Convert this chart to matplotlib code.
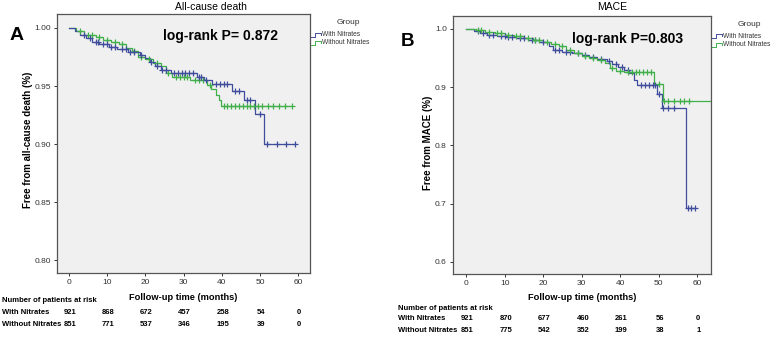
import numpy as np
import matplotlib
matplotlib.use("Agg")
import matplotlib.pyplot as plt
from matplotlib.lines import Line2D
from matplotlib.transforms import blended_transform_factory

# ---- data ----
groups = ["With Nitrates", "Without Nitrates"]
risk_times = [0, 10, 20, 30, 40, 50, 60]

# panel A: all-cause death
a_with_t = [0, 1.5, 3, 4.5, 6, 8, 10.5, 12.5, 15.5, 18.5, 20, 21.2, 22.5, 24, 26.8,
            33.5, 35.3, 37.5, 42.7, 45.7, 48.8, 51.0]
a_with_s = [1.0, 0.997, 0.994, 0.991, 0.988, 0.986, 0.984, 0.982, 0.979, 0.977, 0.974,
            0.971, 0.967, 0.964, 0.961, 0.958, 0.955, 0.952, 0.946, 0.938, 0.926, 0.900]
a_with_end = 59.3
a_with_cens = [4, 5.5, 7, 7.5, 9, 10, 11, 12, 14, 15, 16, 17, 19, 21.5, 23, 24.5, 25.5,
               27.5, 28.5, 29.5, 30.5, 31.5, 32.5, 34, 34.5, 36, 38.5, 39.5, 40.5, 41.5,
               43.5, 44.5, 46.5, 47.5, 50, 51.8, 54.5, 56.9, 59.3]
a_wo_t = [0, 2, 4, 7, 9, 11, 13, 15, 16.5, 18, 20, 22, 24, 25.5, 27, 31.8, 36.2, 37.3,
          38.5, 39.2, 39.8]
a_wo_s = [1.0, 0.997, 0.994, 0.992, 0.990, 0.988, 0.986, 0.983, 0.980, 0.975, 0.973,
          0.970, 0.967, 0.961, 0.958, 0.955, 0.951, 0.947, 0.942, 0.938, 0.933]
a_wo_end = 58.4
a_wo_cens = [3, 5, 6, 8, 10, 12, 14, 17, 19, 21, 23, 26, 28, 29, 30, 31, 33, 34, 35, 37,
             40.5, 41.5, 42.5, 43.5, 44.5, 45.5, 46.5, 47.5, 48.5, 49.5, 50.5, 52, 53.5,
             55, 56.5, 58.4]
a_risk_with = [921, 868, 672, 457, 258, 54, 0]
a_risk_wo = [851, 771, 537, 346, 195, 39, 0]

# panel B: MACE
b_with_t = [0, 2, 3.5, 5.5, 8, 10.5, 13, 16, 19, 21.5, 22.5, 25, 27.5, 30, 32, 34, 36.5,
            38, 39.5, 41, 42.3, 43.5, 44.5, 49.5, 50.8, 57.1]
b_with_s = [1.0, 0.996, 0.993, 0.990, 0.988, 0.986, 0.984, 0.981, 0.977, 0.971, 0.964,
            0.961, 0.958, 0.955, 0.952, 0.948, 0.944, 0.940, 0.935, 0.930, 0.924, 0.912,
            0.904, 0.888, 0.864, 0.692]
b_with_end = 59.5
b_with_cens = [3, 4.5, 6, 7, 9, 10, 11, 12, 14, 15, 17, 18, 20, 23, 24, 26, 27, 29, 31,
               33, 35, 37, 39, 40.5, 42, 45.5, 46.5, 47.5, 48.5, 49, 50, 51.2, 52.5, 54,
               57.5, 58.5, 59.5]
b_wo_t = [0, 2.5, 5, 7.5, 10, 12.5, 15, 17.5, 20, 22, 24, 26, 28, 30, 32, 34, 36, 37.4,
          39, 41, 48.7, 51.1]
b_wo_s = [1.0, 0.998, 0.995, 0.992, 0.990, 0.987, 0.984, 0.981, 0.978, 0.974, 0.970,
          0.964, 0.958, 0.954, 0.950, 0.946, 0.941, 0.932, 0.928, 0.926, 0.906, 0.876]
b_wo_end = 66
b_wo_cens = [3, 4, 6, 8, 9, 11, 13, 14, 16, 18, 19, 21, 23, 25, 27, 29, 31, 33, 35, 38,
             40, 42, 43, 44, 45, 46, 47, 48, 50, 51.5, 52.5, 54, 55.5, 56.5, 58]
b_risk_with = [921, 870, 677, 460, 261, 56, 0]
b_risk_wo = [851, 775, 542, 352, 199, 38, 1]

BLUE = "#3F4D9C"
GREEN = "#41B04A"
W, H = 780, 339


def fx(px):
    return px / W


def fy(py):
    return 1 - py / H


def km(ax, t, s, end, cens, color):
    tt = list(t) + [end]
    ss = list(s) + [s[-1]]
    ax.step(tt, ss, where="post", color=color, lw=0.9, zorder=3)
    idx = np.searchsorted(t, cens, side="right") - 1
    ax.plot(cens, np.array(s)[idx], "+", color=color, ms=4.5, mew=0.9, zorder=4,
            linestyle="none")


plt.rcParams["font.family"] = ["Liberation Sans", "DejaVu Sans"]
fig = plt.figure(figsize=(W / 100, H / 100), dpi=100)

panels = [
    dict(box=(57, 14, 310, 273), xlim=(-3.1, 63.1), ylim=(0.789, 1.012),
         yticks=[0.80, 0.85, 0.90, 0.95, 1.00], yfmt="{:.2f}",
         title="All-cause death", titlex=211,
         ylabel="Free from all-cause death (%)", ylaby=140,
         curves=[(a_wo_t, a_wo_s, a_wo_end, a_wo_cens, GREEN),
                 (a_with_t, a_with_s, a_with_end, a_with_cens, BLUE)],
         risk=(a_risk_with, a_risk_wo), pval="log-rank P= 0.872", psize=10,
         pxy=(220, 36), letter="A", lxy=(17, 35), lsize=14,
         legx=311, legy=(23, 35, 43), ylabx=28, xlaby=297,
         rlabx=2, rys=(300, 313, 325)),
    dict(box=(453, 16, 711, 274), xlim=(-3.4, 63.6), ylim=(0.579, 1.022),
         yticks=[0.6, 0.7, 0.8, 0.9, 1.0], yfmt="{:.1f}",
         title="MACE", titlex=612,
         ylabel="Free from MACE (%)", ylaby=143,
         curves=[(b_with_t, b_with_s, b_with_end, b_with_cens, BLUE),
                 (b_wo_t, b_wo_s, b_wo_end, b_wo_cens, GREEN)],
         risk=(b_risk_with, b_risk_wo), pval="log-rank P=0.803", psize=10,
         pxy=(628, 39), letter="B", lxy=(408, 42), lsize=13.5,
         legx=712, legy=(24, 36, 45), ylabx=428, xlaby=298,
         rlabx=398, rys=(308, 319, 330)),
]

for p in panels:
    x0, y0, x1, y1 = p["box"]
    ax = fig.add_axes([fx(x0), fy(y1), fx(x1) - fx(x0), fy(y0) - fy(y1)])
    ax.set_facecolor("#F0F0F0")
    for c in p["curves"]:
        km(ax, *c)
    ax.set_xlim(*p["xlim"])
    ax.set_ylim(*p["ylim"])
    ax.set_xticks(risk_times)
    ax.set_yticks(p["yticks"])
    ax.set_yticklabels([p["yfmt"].format(v) for v in p["yticks"]])
    ax.tick_params(labelsize=6, colors="#333333", length=2.5, width=0.7, pad=2)
    for sp in ax.spines.values():
        sp.set_color("#555555")
        sp.set_linewidth(0.9)

    cx = (x0 + x1) / 2
    fig.text(fx(p["titlex"]), fy(7), p["title"], ha="center", va="center",
             fontsize=7.5)
    fig.text(fx(p["ylabx"]), fy(p["ylaby"]), p["ylabel"], rotation=90,
             ha="center", va="center", fontsize=7, fontweight="bold")
    fig.text(fx(cx), fy(p["xlaby"]), "Follow-up time (months)", ha="center",
             va="center", fontsize=6.7, fontweight="bold")
    fig.text(fx(p["pxy"][0]), fy(p["pxy"][1]), p["pval"], ha="center", va="center",
             fontsize=p["psize"], fontweight="bold")
    fig.text(fx(p["lxy"][0]), fy(p["lxy"][1]), p["letter"], ha="center",
             va="center", fontsize=p["lsize"], fontweight="bold")

    # legend outside the axes
    lx = p["legx"]
    fig.text(fx(lx + 37), fy(p["legy"][0]), "Group", ha="center", va="center",
             fontsize=6, color="#333333")
    for name, col, ly in zip(groups, [BLUE, GREEN], p["legy"][1:]):
        xs = [fx(lx), fx(lx + 4), fx(lx + 4), fx(lx + 10), fx(lx + 10)]
        ys = [fy(ly + 2), fy(ly + 2), fy(ly - 2), fy(ly - 2), fy(ly)]
        fig.add_artist(Line2D(xs, ys, color=col, lw=0.7))
        fig.text(fx(lx + 11), fy(ly), name, ha="left", va="center", fontsize=4.8,
                 color="#333333")

    # number at risk table
    tr = blended_transform_factory(ax.transData, fig.transFigure)
    rfont = dict(fontsize=5.5, fontweight="bold")
    fig.text(fx(p["rlabx"]), fy(p["rys"][0]), "Number of patients at risk",
             ha="left", va="center", **rfont)
    for name, vals, ry in zip(groups, p["risk"], p["rys"][1:]):
        fig.text(fx(p["rlabx"]), fy(ry), name, ha="left", va="center", **rfont)
        for t, v in zip(risk_times, vals):
            ax.text(t + 0.3, fy(ry), str(v), transform=tr, ha="center",
                    va="center", **rfont)

fig.savefig("out.png", dpi=100)
